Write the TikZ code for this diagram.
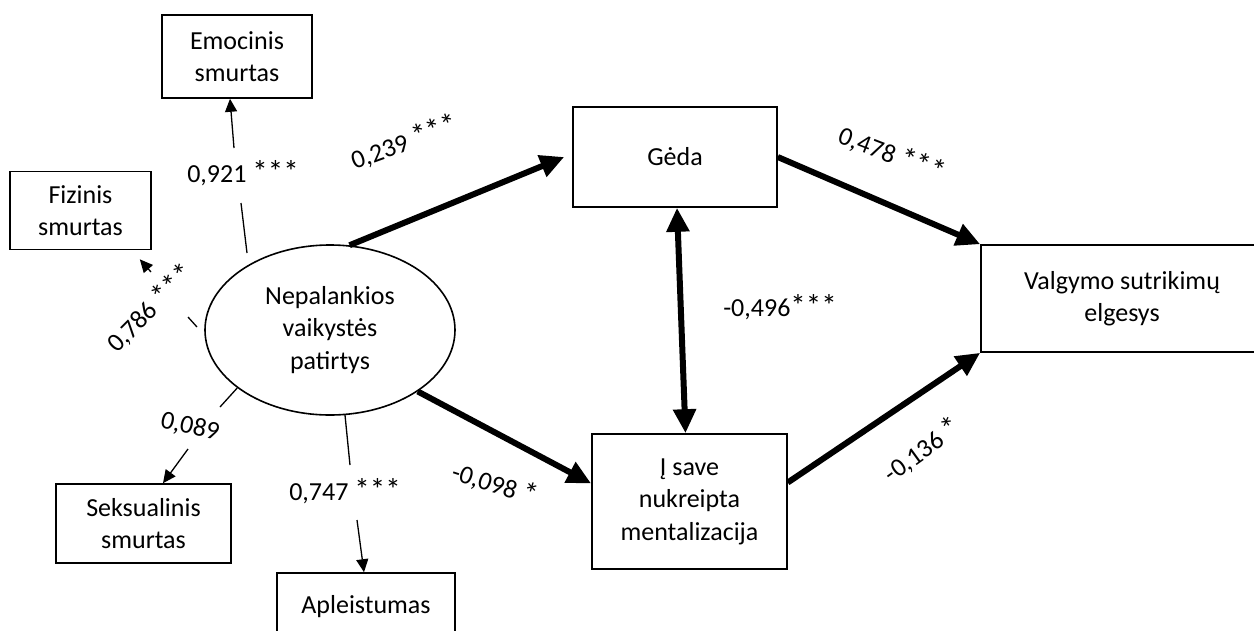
\documentclass[tikz,border=0pt]{standalone}
\usepackage{fontspec}
\setmainfont{Carlito}
\usetikzlibrary{arrows.meta,shapes.geometric}
\newcommand{\txtfont}{\fontsize{26}{32.5}\selectfont}
\newcommand{\mystar}{{\fontsize{31}{31}\selectfont *}}
\begin{document}
\begin{tikzpicture}[x=1pt,y=-1pt,
  box/.style={draw, line width=1.6pt, inner sep=0pt, align=center, font=\txtfont},
  lbl/.style={inner sep=1pt, font=\txtfont},
  thickarr/.style={line width=6pt, -{Triangle[length=24pt,width=22pt]}},
  dblarr/.style={line width=6pt, {Triangle[length=24pt,width=22pt]}-{Triangle[length=24pt,width=22pt]}},
  thinarr/.style={line width=1.3pt, -{Triangle[length=13pt,width=12pt]}},
  stub/.style={line width=1.3pt}]
\fill[white] (0,0) rectangle (1254,630);
\useasboundingbox (0,0) rectangle (1254,630);

% nodes
\node[box, minimum width=150pt, minimum height=83pt] (emo) at (237,56.5) {Emocinis\\smurtas};
\node[box, minimum width=141pt, minimum height=78pt] (fiz) at (80.5,210.5) {Fizinis\\smurtas};
\node[box, minimum width=175pt, minimum height=79pt] (sek) at (143.5,523.5) {Seksualinis\\smurtas};
\node[box, minimum width=178pt, minimum height=67pt] (apl) at (366,606.5) {Apleistumas};
\node[draw, ellipse, line width=1.6pt, inner sep=0pt, minimum width=250pt, minimum height=170pt,
      align=center, font=\txtfont] (ell) at (330,330) {Nepalankios\\vaikystės\\patirtys};
\node[box, minimum width=204pt, minimum height=100pt] (geda) at (675,157) {Gėda};
\node[box, minimum width=282pt, minimum height=107pt] (val) at (1122,298.5) {Valgymo sutrikimų\\elgesys};
\node[box, minimum width=195pt, minimum height=135pt] (isave) at (689.5,501.5) {Į save\\nukreipta\\mentalizacija};

% thick structural paths
\draw[thickarr] (ell.77) -- ([xshift=-8pt]geda.west);
\draw[thickarr] (ell.-35) -- ([yshift=18pt]isave.west);
\draw[thickarr] (geda.east) -- (val.north west);
\draw[thickarr] ([yshift=19pt]isave.east) -- (val.south west);
\draw[dblarr] ([xshift=2pt]geda.south) -- ([xshift=-4pt]isave.north);

% measurement model (thin)
\coordinate (e1) at (247,253);
\coordinate (e2) at (241,203);
\coordinate (e3) at (234,148);
\draw[stub] (e1) -- (e2);
\draw[thinarr] (e3) -- ([xshift=-7pt]emo.south);

\coordinate (f1) at (197,327);
\coordinate (f2) at (188,317);
\coordinate (f3) at (151,272);
\draw[stub] (f1) -- (f2);
\draw[thinarr] (f3) -- ([shift={(-12pt,-9pt)}]fiz.south east);

\coordinate (s2) at (220,407);
\coordinate (s3) at (188,449);
\draw[stub] (ell.212) -- (s2);
\draw[thinarr] (s3) -- ([xshift=19.5pt]sek.north);

\coordinate (a2) at (350,465);
\coordinate (a3) at (357,520);
\draw[stub] (ell.-80) -- (a2);
\draw[thinarr] (a3) -- ([xshift=-2pt]apl.north);

% labels
\node[lbl] (l1) at (243,173) {0,921 \mystar\mystar\mystar};
\node[lbl, rotate=45] (l2) at (150,308) {0,786 \mystar\mystar\mystar};
\node[lbl, rotate=-13] (l3) at (190,427) {0,089};
\node[lbl] (l4) at (345,491) {0,747 \mystar\mystar\mystar};
\node[lbl, rotate=20] (l5) at (404,142) {0,239 \mystar\mystar\mystar};
\node[lbl, rotate=-18] (l6) at (495,484) {-0,098 \mystar};
\node[lbl] (l7) at (780,307) {-0,496\mystar\mystar\mystar};
\node[lbl, rotate=-21] (l8) at (892,154) {0,478 \mystar\mystar\mystar};
\node[lbl, rotate=36] (l9) at (922,450) {-0,136 \mystar};
\end{tikzpicture}
\end{document}
